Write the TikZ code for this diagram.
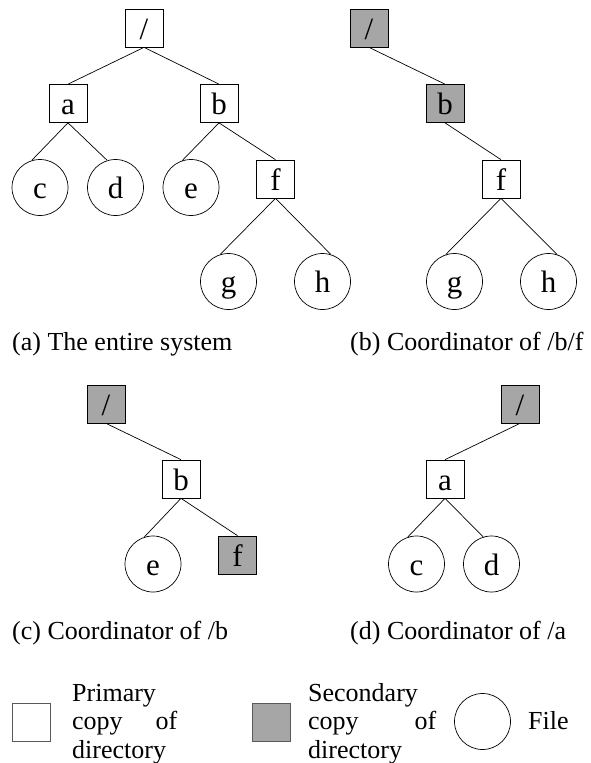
\documentclass[tikz,border=0pt]{standalone}
\usepackage{fontspec}
\setmainfont{Liberation Serif}
\usetikzlibrary{positioning}

\begin{document}
\begin{tikzpicture}[x=1pt,y=-1pt,
    dirbox/.style={draw, minimum size=38pt, inner sep=0pt, line width=0.7pt, text height=22pt, text depth=0pt, font=\fontsize{31}{33}\selectfont},
    secbox/.style={dirbox, fill=black!35},
    filenode/.style={draw, circle, minimum size=56pt, inner sep=0pt, line width=0.7pt, text height=22pt, text depth=0pt, font=\fontsize{31}{33}\selectfont},
    link/.style={line width=0.7pt},
    caption/.style={anchor=base west, inner sep=0pt, font=\fontsize{26}{28.5}\selectfont},
    legtext/.style={caption, align=left}]

\useasboundingbox (0,0) rectangle (590,763);

% (a) The entire system
\node[dirbox] (root1) at (144,28) {/};
\node[dirbox] (a1) at (68,103.5) {a};
\node[dirbox] (b1) at (219,103.5) {b};
\node[filenode] (c1) at (40,187.5) {c};
\node[filenode] (d1) at (115.5,187.5) {d};
\node[filenode] (e1) at (191,187.5) {e};
\node[dirbox] (f1) at (275.5,179) {f};
\node[filenode] (g1) at (228.5,281.5) {g};
\node[filenode] (h1) at (322.5,281.5) {h};

\foreach \p/\c in {root1.south/a1.north, root1.south/b1.north, a1.south/c1.107, a1.south/d1.107,
                   b1.south/e1.108, b1.south/f1.north, f1.south/g1.107, f1.south/h1.73}
{
    \draw[link] (\p) -- (\c);
}

\node[caption] (capa) at (12,350) {(a) The entire system};

% (b) Coordinator of /b/f
\node[secbox] (root2) at (369,28) {/};
\node[secbox] (b2) at (445,103.5) {b};
\node[dirbox] (f2) at (501,179) {f};
\node[filenode] (g2) at (454.5,281.5) {g};
\node[filenode] (h2) at (548.5,281.5) {h};

\foreach \p/\c in {root2.south/b2.north, b2.south/f2.north, f2.south/g2.108, f2.south/h2.72}
{
    \draw[link] (\p) -- (\c);
}

\node[caption] (capb) at (350,350) {(b) Coordinator of /b/f};

% (c) Coordinator of /b
\node[secbox] (root3) at (106,404) {/};
\node[dirbox] (b3) at (181,479) {b};
\node[filenode] (e3) at (153,564) {e};
\node[secbox] (f3) at (237.5,555) {f};

\foreach \p/\c in {root3.south/b3.north, b3.south/e3.108, b3.south/f3.north}
{
    \draw[link] (\p) -- (\c);
}

\node[caption] (capc) at (12,639) {(c) Coordinator of /b};

% (d) Coordinator of /a
\node[secbox] (root4) at (520,404) {/};
\node[dirbox] (a4) at (445,479) {a};
\node[filenode] (c4) at (416.5,564) {c};
\node[filenode] (d4) at (491.5,564) {d};

\foreach \p/\c in {root4.south/a4.north, a4.south/c4.108, a4.south/d4.107}
{
    \draw[link] (\p) -- (\c);
}

\node[caption] (capd) at (350,639) {(d) Coordinator of /a};

% Legend
\node[dirbox, draw=black!65] (keyprim) at (31,722) {};
\node[legtext, text width=105pt] (keyprimtext) at (72,701) {Primary\\copy\hfill of\\directory};
\node[secbox, draw=black!65] (keysec) at (271,722) {};
\node[legtext, text width=128pt] (keysectext) at (308,701) {Secondary\\copy\hfill of\\directory};
\node[filenode] (keyfile) at (482.5,721.5) {};
\node[caption] (keyfiletext) at (528,729.5) {File};

\end{tikzpicture}
\end{document}
